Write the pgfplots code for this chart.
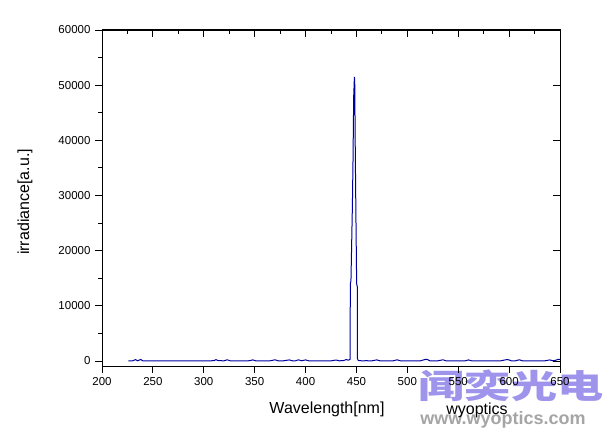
\documentclass[border=0pt]{standalone}
\usepackage{fontspec}
\setmainfont{Liberation Sans}
\newfontfamily\cjk{Noto Sans CJK SC}
\usepackage{pgfplots}
\pgfplotsset{compat=1.18}
\definecolor{specblue}{RGB}{0,0,160}
\definecolor{wmpurple}{RGB}{158,148,236}
\definecolor{wmgray}{RGB}{165,165,165}
\begin{document}
\begin{tikzpicture}
\path[use as bounding box] (0,0) rectangle (609pt,437pt);
% watermark drawn first, behind the chart
\node[font=\fontsize{33}{35}\selectfont\cjk\bfseries, text=wmpurple, inner sep=0pt] at (511pt,51pt) {\scalebox{1.4}[1]{闻奕光电}};
\node[font=\fontsize{18}{20}\selectfont\bfseries, text=wmgray] at (503pt,17pt) {www.wyoptics.com};
\pgfplotsset{
  common/.style={
    scale only axis, width=458pt, height=336pt,
    at={(102pt,71pt)}, anchor=south west,
    xmin=200, xmax=650, ymin=-906, ymax=60000,
    axis line style={line width=1pt, black},
    every tick/.style={line width=1pt, black},
    major tick length=7pt, minor tick length=4pt,
    xtick={200,250,...,650},
    ytick={0,10000,...,60000},
    scaled y ticks=false,
    /pgf/number format/.cd, 1000 sep={}, assume math mode=true, /pgfplots/.cd,
    tick label style={font=\fontsize{11.5}{13}\selectfont},
  }
}
% main axis: left/bottom outward ticks, data
\begin{axis}[common,
  tick align=outside,
  xtick pos=bottom, ytick pos=left,
  minor y tick num=1,
  xticklabel style={yshift=-1pt},
  yticklabel style={xshift=-1pt},
]
\addplot[specblue, line width=1pt, mark=none] coordinates {
(226,30) (230,40) (233,250) (235,40) (238,280) (240,40) (245,30) (250,40)
(255,30) (260,40) (265,30) (270,40) (275,30) (280,40) (285,30) (290,40)
(295,30) (300,40) (305,30) (310,60) (312,250) (314,60) (320,40) (323,220)
(326,40) (330,30) (335,40) (340,30) (345,50) (348,200) (351,40) (355,30)
(360,40) (365,30) (370,220) (373,40) (378,30) (384,200) (387,40) (390,30)
(393,220) (396,40) (400,200) (403,40) (408,30) (412,40) (416,30) (420,40)
(425,30) (430,180) (433,40) (437,60) (440,260) (442,150) (443.7,300)
(444.0,14000) (444.6,14500) (446.0,28000) (446.6,36000) (447.3,48000)
(448.0,51500) (448.3,50800) (448.9,37000) (449.5,26000) (450.2,14000)
(450.8,13500) (451.0,400) (451.8,100) (455,40) (460,50) (465,30) (470,200)
(473,40) (478,30) (482,40) (486,30) (490,220) (493,40) (498,30) (503,40)
(508,30) (513,40) (516,200) (518,300) (520,250) (522,40) (526,30) (530,40)
(535,220) (538,40) (543,30) (548,40) (553,30) (557,40) (560,200) (563,40)
(568,30) (573,40) (578,30) (583,40) (588,30) (592,40) (596,200) (598,250)
(600,200) (602,40) (606,30) (610,220) (613,40) (618,30) (622,40) (626,30)
(630,40) (635,30) (640,200) (643,40) (646,150) (648,300) (650,300)
};
\end{axis}
% top/right inward ticks
\begin{axis}[common,
  tick align=inside,
  xtick pos=top, ytick pos=right,
  minor x tick num=1,
  xticklabels={}, yticklabels={},
]
\end{axis}
% bottom inward minor ticks
\begin{axis}[common,
  tick align=inside,
  xtick pos=bottom, ytick=\empty,
  xtick=\empty, minor xtick={225,275,...,625},
  xticklabels={},
]
\end{axis}
\node[font=\fontsize{16}{18}\selectfont] at (327pt,28pt) {Wavelength[nm]};
\node[font=\fontsize{16}{18}\selectfont, rotate=90] at (25pt,235pt) {irradiance[a.u.]};
\node[font=\fontsize{16}{18}\selectfont] at (477pt,27pt) {wyoptics};
\end{tikzpicture}
\end{document}
